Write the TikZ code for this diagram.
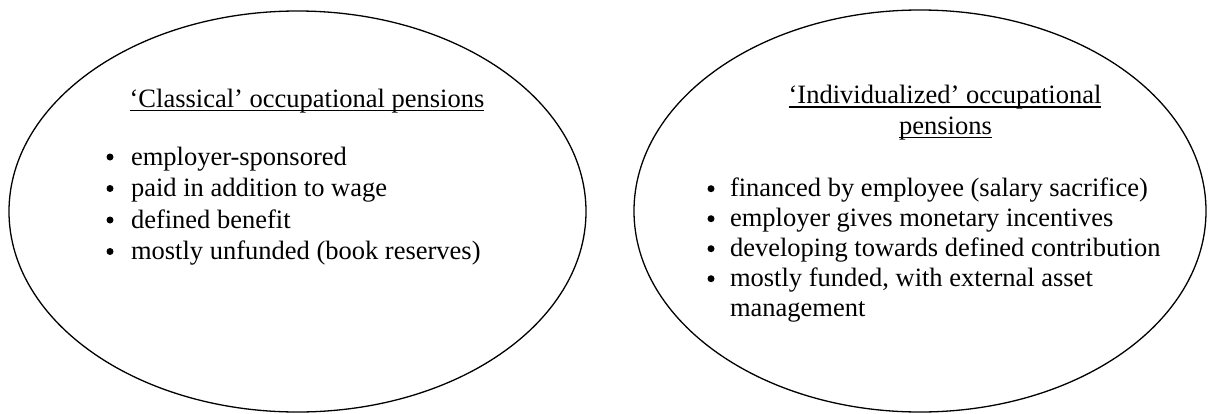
\documentclass[tikz,border=0pt]{standalone}
\usepackage{fontspec}
\setmainfont{Liberation Serif}
\usetikzlibrary{shapes.geometric}
\newcommand\myul[1]{\setbox0\hbox{#1}\rlap{\rule[-4.2pt]{\wd0}{1.7pt}}\box0}
\begin{document}
\begin{tikzpicture}[x=1pt,y=-1pt,
  oval/.style={draw=black, line width=1.3pt, ellipse, inner sep=0pt},
  txt/.style={inner sep=0pt, outer sep=0pt, anchor=base west, font=\fontsize{26.5}{30}\selectfont},
  ttl/.style={inner sep=0pt, outer sep=0pt, anchor=base, font=\fontsize{26.5}{30}\selectfont},
  bul/.style={circle, fill=black, inner sep=0pt, minimum size=7pt}]
\useasboundingbox (0,0) rectangle (1208,413);
% ellipses
\node[oval, minimum width=577pt, minimum height=401pt] (left) at (297.5,211.5) {};
\node[oval, minimum width=572pt, minimum height=402pt] (right) at (920,211) {};
% left content
\node[ttl] (lt) at (307,107) {\myul{‘Classical’ occupational pensions}};
\node[bul] (lb1) at (110,157) {};
\node[txt] (l1) at (131,165) {employer-sponsored};
\node[bul] (lb2) at (110,188.5) {};
\node[txt] (l2) at (131,196.5) {paid in addition to wage};
\node[bul] (lb3) at (110,220) {};
\node[txt] (l3) at (131,228) {defined benefit};
\node[bul] (lb4) at (110,251.5) {};
\node[txt] (l4) at (131,259.5) {mostly unfunded (book reserves)};
% right content
\node[ttl] (rt1) at (945,103.5) {\myul{‘Individualized’ occupational}};
\node[ttl] (rt2) at (945.5,134) {\myul{pensions}};
\node[bul] (rb1) at (711,188.7) {};
\node[txt] (r1) at (730,196.7) {financed by employee (salary sacrifice)};
\node[bul] (rb2) at (711,218.7) {};
\node[txt] (r2) at (730,226.7) {employer gives monetary incentives};
\node[bul] (rb3) at (711,248.7) {};
\node[txt] (r3) at (730,256.7) {developing towards defined contribution};
\node[bul] (rb4) at (711,278.7) {};
\node[txt] (r4) at (730,286.7) {mostly funded, with external asset};
\node[txt] (r5) at (730,316.7) {management};
\end{tikzpicture}
\end{document}
